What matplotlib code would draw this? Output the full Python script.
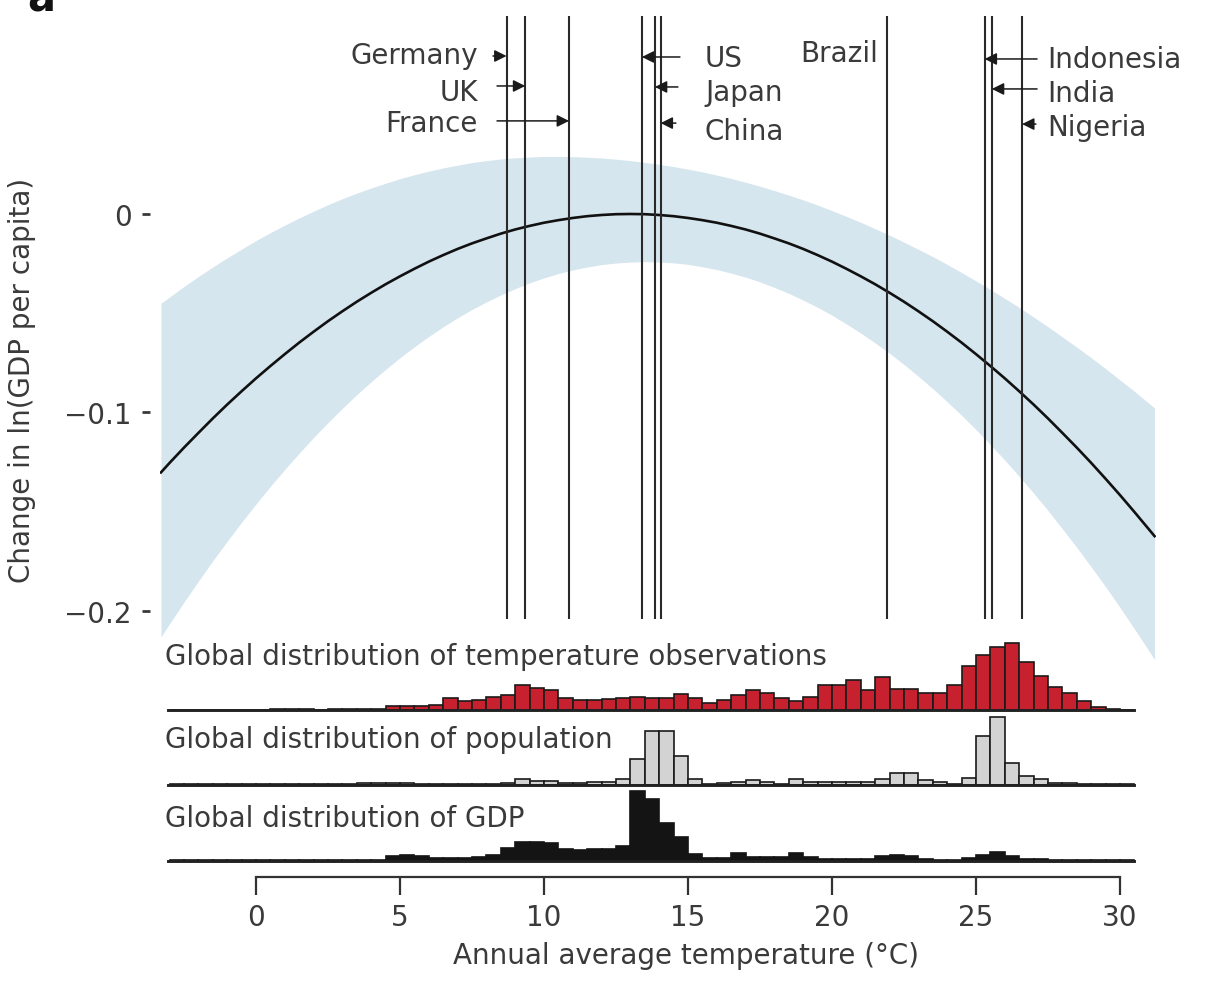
import numpy as np
import matplotlib
matplotlib.use('Agg')
import matplotlib.pyplot as plt
from matplotlib import font_manager

# ---------------- data ----------------
curve_temp = [-3.3, -3.0, -2.5, -2.0, -1.5, -1.0, -0.5, 0.0, 0.5, 1.0, 1.5, 2.0, 2.5, 3.0,
              3.5, 4.0, 4.5, 5.0, 5.5, 6.0, 6.5, 7.0, 7.5, 8.0, 8.5, 9.0, 9.5, 10.0, 10.5,
              11.0, 11.5, 12.0, 12.5, 13.0, 13.5, 14.0, 14.5, 15.0, 15.5, 16.0, 16.5, 17.0,
              17.5, 18.0, 18.5, 19.0, 19.5, 20.0, 20.5, 21.0, 21.5, 22.0, 22.5, 23.0, 23.5,
              24.0, 24.5, 25.0, 25.5, 26.0, 26.5, 27.0, 27.5, 28.0, 28.5, 29.0, 29.5, 30.0,
              30.5, 31.0, 31.2]
curve_effect = [-0.1302, -0.1254, -0.1177, -0.1103, -0.1030, -0.0960, -0.0893, -0.0828,
                -0.0766, -0.0706, -0.0648, -0.0593, -0.0540, -0.0490, -0.0442, -0.0397,
                -0.0354, -0.0314, -0.0276, -0.0240, -0.0207, -0.0176, -0.0148, -0.0123,
                -0.0099, -0.0078, -0.0060, -0.0044, -0.0031, -0.0020, -0.0011, -0.0005,
                -0.0001, 0.0, -0.0001, -0.0005, -0.0011, -0.0020, -0.0031, -0.0044,
                -0.0060, -0.0078, -0.0099, -0.0123, -0.0148, -0.0176, -0.0207, -0.0240,
                -0.0276, -0.0314, -0.0354, -0.0397, -0.0442, -0.0490, -0.0540, -0.0593,
                -0.0648, -0.0706, -0.0766, -0.0828, -0.0893, -0.0960, -0.1030, -0.1103,
                -0.1177, -0.1254, -0.1334, -0.1416, -0.1501, -0.1588, -0.1623]
band_upper = [-0.0450, -0.0418, -0.0365, -0.0315, -0.0267, -0.0221, -0.0177, -0.0134,
              -0.0094, -0.0056, -0.0020, 0.0014, 0.0047, 0.0077, 0.0105, 0.0131, 0.0155,
              0.0178, 0.0198, 0.0216, 0.0232, 0.0246, 0.0259, 0.0269, 0.0277, 0.0283,
              0.0287, 0.0290, 0.0290, 0.0289, 0.0286, 0.0282, 0.0276, 0.0269, 0.0260,
              0.0250, 0.0239, 0.0226, 0.0212, 0.0196, 0.0179, 0.0160, 0.0140, 0.0118,
              0.0095, 0.0071, 0.0045, 0.0017, -0.0012, -0.0042, -0.0074, -0.0107, -0.0142,
              -0.0178, -0.0215, -0.0254, -0.0295, -0.0337, -0.0380, -0.0425, -0.0471,
              -0.0519, -0.0568, -0.0619, -0.0671, -0.0724, -0.0779, -0.0836, -0.0893,
              -0.0953, -0.0977]
band_lower = [-0.2131, -0.2064, -0.1955, -0.1850, -0.1747, -0.1649, -0.1553, -0.1461,
              -0.1372, -0.1287, -0.1205, -0.1126, -0.1051, -0.0979, -0.0910, -0.0845,
              -0.0783, -0.0724, -0.0669, -0.0617, -0.0568, -0.0523, -0.0481, -0.0443,
              -0.0408, -0.0376, -0.0347, -0.0322, -0.0300, -0.0282, -0.0267, -0.0255,
              -0.0247, -0.0242, -0.0240, -0.0242, -0.0246, -0.0254, -0.0266, -0.0280,
              -0.0298, -0.0318, -0.0342, -0.0370, -0.0400, -0.0434, -0.0470, -0.0510,
              -0.0554, -0.0600, -0.0650, -0.0702, -0.0758, -0.0818, -0.0880, -0.0946,
              -0.1014, -0.1086, -0.1162, -0.1240, -0.1322, -0.1406, -0.1494, -0.1586,
              -0.1680, -0.1778, -0.1878, -0.1982, -0.2090, -0.2200, -0.2245]

countries = ['Germany', 'UK', 'France', 'US', 'Japan', 'China', 'Brazil',
             'Indonesia', 'India', 'Nigeria']
country_temp = [8.7, 9.35, 10.87, 13.4, 13.85, 14.05, 21.9, 25.3, 25.55, 26.6]

hist_bin_left = np.arange(-3.0, 30.5, 0.5)   # 0.5 degC bins, 67 bins
obs_share = [0.3, 0.3, 0.5, 0.5, 0.5, 0.3, 0.5, 0.8, 1.0, 0.8, 0.5, 0.8, 1.2, 1.0, 1.5,
             4, 4, 4, 5, 12, 9, 10, 13, 15, 25, 22, 20, 12, 10, 10, 11, 12, 13,
             12, 12, 16, 12, 7, 10, 15, 20, 17, 12, 9, 13, 25, 25, 30, 20, 33, 21, 21, 17,
             17, 25, 44, 55, 63, 67, 48, 34, 23, 17, 9, 3, 1, 0.5]
pop_share = [0.2, 0.2, 0.2, 0.2, 0.2, 0.2, 0.3, 0.3, 0.3, 0.3, 0.3, 0.5, 1.0, 1.5, 1.5,
             1.5, 1.5, 1.0, 1.0, 0.8, 0.8, 1.0, 1.0, 2, 6, 4, 4, 1.5, 1.5, 3, 3, 6, 26,
             54, 54, 29, 6, 1, 1.5, 3, 5, 3, 1, 6, 3, 3, 3, 3, 3, 6, 12, 12, 5,
             3, 1, 7, 49, 68, 22, 9, 6, 2, 1.5, 1, 0.5, 0.3, 0.3]
gdp_share = [0.3, 0.3, 0.3, 0.3, 0.3, 0.3, 0.3, 0.3, 0.3, 0.3, 0.3, 0.8, 0.8, 0.8, 0.8,
             5, 5.5, 5, 3, 3, 3, 4, 6, 13, 19, 19, 18, 12, 11, 12, 12, 15, 70,
             62, 38, 24, 7, 3, 3, 8, 4, 4, 4, 8, 4, 1.5, 1.5, 1.5, 1.5, 5, 6, 5, 1.5,
             1, 1, 3, 6, 9, 5, 2, 2, 1, 0.5, 0.5, 0.3, 0.3, 0.3]

hist_titles = ['Global distribution of temperature observations',
               'Global distribution of population',
               'Global distribution of GDP']
xtick_values = [0, 5, 10, 15, 20, 25, 30]
ytick_values = [0, -0.1, -0.2]
ytick_labels = ['0', '\u22120.1', '\u22120.2']

# ---------------- style ----------------
W, H = 1207, 987
TXT = '#3a3a3a'
BAND = '#d6e6ef'
RED = '#c7202e'
GREY = '#d3d3d3'
XMIN, XMAX = -3.35, 31.25
LEFT_PX, RIGHT_PX = 159.5, 1156

names = {f.name for f in font_manager.fontManager.ttflist}
if 'Liberation Sans Narrow' in names:
    bottom_font = dict(family='Liberation Sans Narrow', size=26)
else:
    bottom_font = dict(family='DejaVu Sans', size=20)

plt.rcParams['font.family'] = ['DejaVu Sans']


def rect(top_px, bottom_px):
    return [LEFT_PX / W, 1 - bottom_px / H, (RIGHT_PX - LEFT_PX) / W, (bottom_px - top_px) / H]


fig = plt.figure(figsize=(W / 100, H / 100), dpi=100)

# ---------------- main panel ----------------
ax = fig.add_axes(rect(16.5, 663.6))
ax.set_xlim(XMIN, XMAX)
ax.set_ylim(-0.226, 0.1)
ax.patch.set_alpha(0)
ax.fill_between(curve_temp, band_lower, band_upper, color=BAND, lw=0, zorder=1)
ax.plot(curve_temp, curve_effect, color='#111111', lw=1.9, zorder=3,
        solid_joinstyle='round')
ax.vlines(country_temp, -0.204, 0.1, color='#2a2a2a', lw=1.5, zorder=4)

for s in ['top', 'right', 'bottom']:
    ax.spines[s].set_visible(False)
ax.spines['left'].set_position(('outward', 7))
ax.spines['left'].set_color('none')
ax.set_xticks([])
ax.set_yticks(ytick_values)
ax.set_yticklabels(ytick_labels)
ax.tick_params(axis='y', direction='out', length=6, width=2, color=TXT,
               labelsize=20, labelcolor=TXT, pad=7)
ax.set_ylabel('Change in ln(GDP per capita)', fontsize=20, color=TXT)
ax.yaxis.set_label_coords((36 - LEFT_PX) / (RIGHT_PX - LEFT_PX), (663.6 - 380) / (663.6 - 16.5))

# country labels: (text x, text baseline y, ha, arrow tail x, arrow y)
label_layout = {
    'Germany':   (7.71, 0.0761, 'right', 8.23, 0.0796),
    'UK':        (7.71, 0.0574, 'right', 8.37, 0.0645),
    'France':    (7.71, 0.0418, 'right', 8.37, 0.0469),
    'US':        (15.59, 0.0746, 'left', 14.72, 0.0791),
    'Japan':     (15.59, 0.0574, 'left', 14.65, 0.0640),
    'China':     (15.59, 0.0378, 'left', 14.58, 0.0458),
    'Brazil':    (21.6, 0.0771, 'right', None, None),
    'Indonesia': (27.47, 0.0741, 'left', 27.12, 0.0781),
    'India':     (27.47, 0.0569, 'left', 27.12, 0.0630),
    'Nigeria':   (27.47, 0.0398, 'left', 27.08, 0.0453),
}
for name, t in zip(countries, country_temp):
    tx, ty, ha, ax0, ay = label_layout[name]
    ax.text(tx, ty, name, ha=ha, va='baseline', fontsize=20, color=TXT, zorder=6)
    if ax0 is not None:
        ax.annotate('', xy=(t, ay), xytext=(ax0, ay),
                    arrowprops=dict(arrowstyle='-|>', color='#1a1a1a', lw=1.1,
                                    mutation_scale=18, shrinkA=0, shrinkB=0),
                    zorder=6)

# ---------------- histograms ----------------
hist_specs = [
    (711.0, obs_share, RED, '#1a1a1a', 665),
    (785.5, pop_share, GREY, '#1a1a1a', 748),
    (861.5, gdp_share, '#141414', '#141414', 827),
]
for (base, vals, fc, ec, title_base), title in zip(hist_specs, hist_titles):
    h = fig.add_axes(rect(base - 75, base))
    h.patch.set_alpha(0)
    h.set_xlim(XMIN, XMAX)
    h.set_ylim(0, 75)
    h.bar(hist_bin_left, vals, width=0.5, align='edge', color=fc,
          edgecolor=ec, linewidth=1.2, zorder=2)
    for s in ['top', 'right', 'left']:
        h.spines[s].set_visible(False)
    h.spines['bottom'].set_linewidth(2.1)
    h.spines['bottom'].set_color('#222222')
    h.spines['bottom'].set_bounds(-3.05, 30.5)
    h.set_xticks([])
    h.set_yticks([])
    fig.text(165 / W, 1 - title_base / H, title, fontsize=20, color=TXT,
             ha='left', va='baseline')

# ---------------- bottom temperature axis ----------------
bx = fig.add_axes(rect(877, 878))
bx.patch.set_alpha(0)
bx.set_xlim(XMIN, XMAX)
bx.set_ylim(0, 1)
for s in ['top', 'right', 'left']:
    bx.spines[s].set_visible(False)
bx.spines['bottom'].set_linewidth(1.6)
bx.spines['bottom'].set_color('#333333')
bx.spines['bottom'].set_bounds(xtick_values[0], xtick_values[-1])
bx.set_yticks([])
bx.set_xticks(xtick_values)
bx.set_xticklabels([str(v) for v in xtick_values], color=TXT, **bottom_font)
bx.tick_params(axis='x', direction='out', length=13, width=1.6, color='#333333', pad=6)
bx.set_xlabel('Annual average temperature (\u00b0C)', color=TXT, **bottom_font)
bx.xaxis.set_label_coords((686 - LEFT_PX) / (RIGHT_PX - LEFT_PX), -64)

# cropped panel letter at top-left
fig.text(41 / W, 1 - 12 / H, 'a', fontsize=30, fontweight='bold', color='#111111',
         ha='center', va='baseline')

fig.savefig('out.png', dpi=100)
